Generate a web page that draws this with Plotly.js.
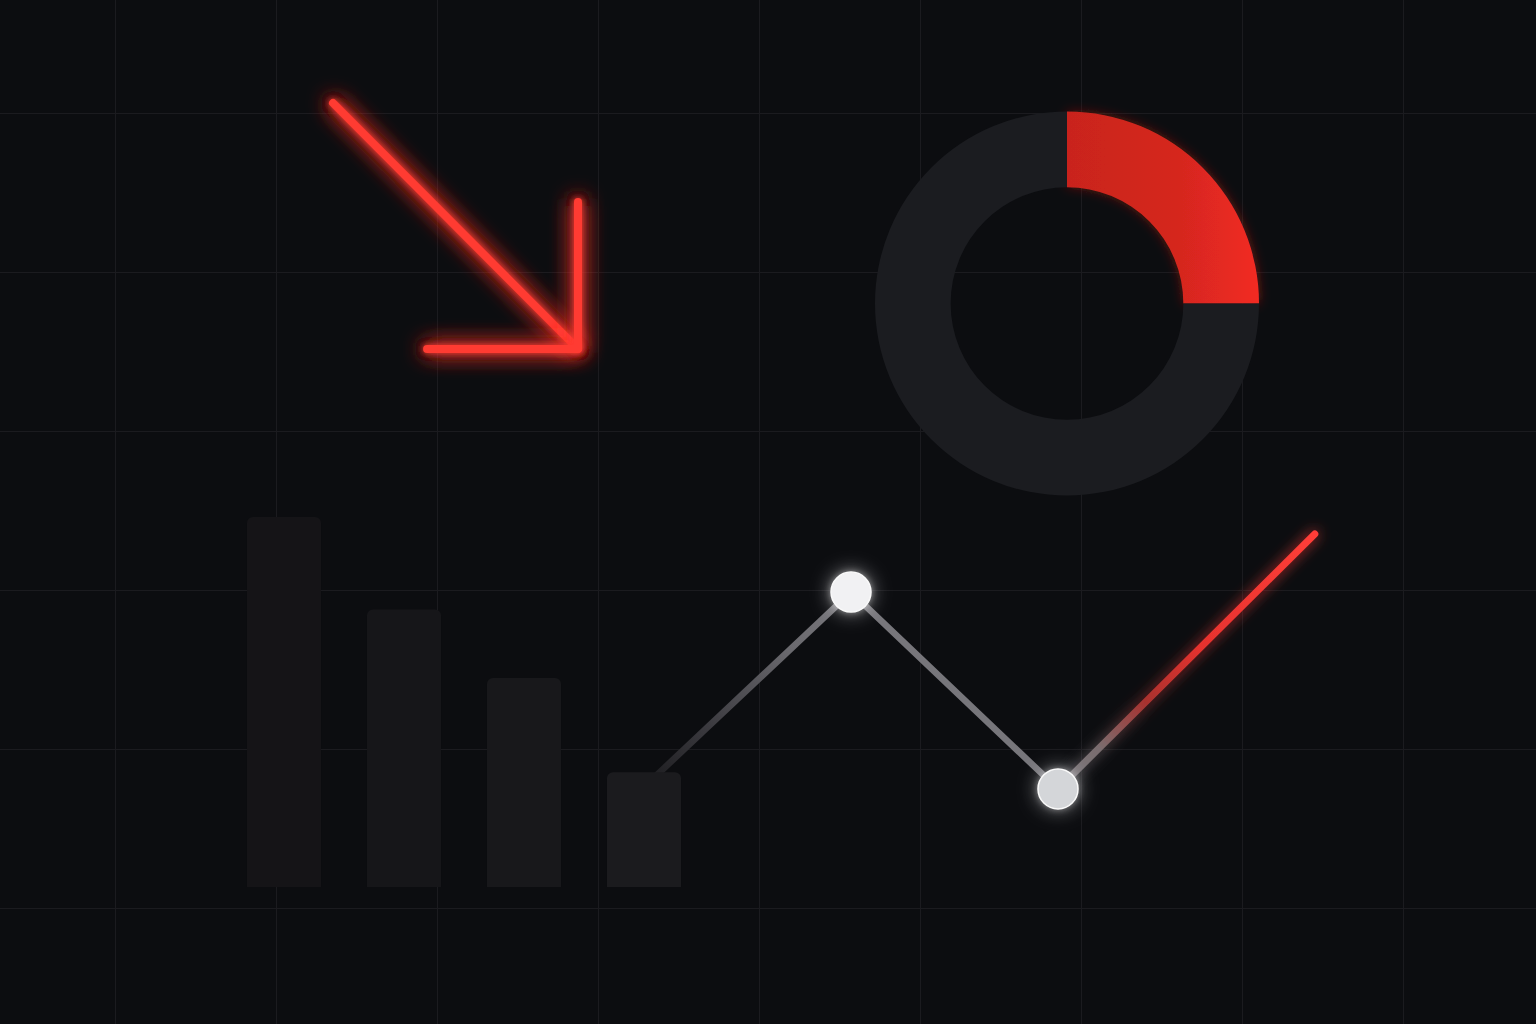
<!DOCTYPE html>
<html>
<head>
<meta charset="utf-8">
<script src="https://cdn.plot.ly/plotly-3.0.1.min.js"></script>
<style>
  html, body { margin: 0; padding: 0; background: #0c0d10; }
  #chart { width: 1536px; height: 1024px; }
</style>
</head>
<body>
<div id="chart"></div>
<script>
// ---- data ----
const barCategories = [0, 1, 2, 3];
const barValues = [100, 75, 56.5, 31];
const barColors = ['#151417', '#161619', '#18181b', '#1b1b1e'];

const lineX = [3.0, 4.725, 6.45, 8.59];
const lineY = [27, 79.7, 26.5, 95.4];
const pointColors = ['#f1f1f3', '#d4d6d9'];

const donutLabels = ['Share', 'Rest'];
const donutValues = [25, 75];
const donutColors = ['#d6271f', '#1b1c20'];

const arrowShaftX = [0, 1];
const arrowShaftY = [1, 0];
const arrowHeadX = [0.384, 1, 1];
const arrowHeadY = [0, 0, 0.598];

// ---- traces ----
const traces = [
  { type: 'scatter', mode: 'lines', name: 'seg1', x: lineX.slice(0, 2), y: lineY.slice(0, 2),
    xaxis: 'x', yaxis: 'y', line: { color: '#56555a', width: 6.5 }, hoverinfo: 'skip' },
  { type: 'scatter', mode: 'lines', name: 'seg2', x: lineX.slice(1, 3), y: lineY.slice(1, 3),
    xaxis: 'x', yaxis: 'y', line: { color: '#77767b', width: 6.5 }, hoverinfo: 'skip' },
  { type: 'scatter', mode: 'lines', name: 'seg3', x: lineX.slice(2, 4), y: lineY.slice(2, 4),
    xaxis: 'x', yaxis: 'y', line: { color: '#e8322e', width: 7 }, hoverinfo: 'skip' },
  { type: 'scatter', mode: 'markers', name: 'points', x: lineX.slice(1, 3), y: lineY.slice(1, 3),
    xaxis: 'x', yaxis: 'y',
    marker: { size: 40, color: pointColors, line: { color: '#fafafa', width: 1.5 } }, hoverinfo: 'skip' },
  { type: 'scatter', mode: 'lines', name: 'arrowShaft', x: arrowShaftX, y: arrowShaftY,
    xaxis: 'x2', yaxis: 'y2', line: { color: '#ff3a31', width: 8 }, hoverinfo: 'skip' },
  { type: 'scatter', mode: 'lines', name: 'arrowHead', x: arrowHeadX, y: arrowHeadY,
    xaxis: 'x2', yaxis: 'y2', line: { color: '#ff3a31', width: 8 }, hoverinfo: 'skip' },
  { type: 'bar', name: 'bars', x: barCategories, y: barValues, xaxis: 'x3', yaxis: 'y3',
    width: 0.617, marker: { color: barColors, cornerradius: 6, line: { width: 0 } }, hoverinfo: 'skip' },
  { type: 'pie', name: 'donut', labels: donutLabels, values: donutValues, hole: 0.606,
    sort: false, direction: 'clockwise', rotation: 0, textinfo: 'none', hoverinfo: 'skip',
    marker: { colors: donutColors, line: { width: 0 } },
    domain: { x: [875 / 1536, 1259 / 1536], y: [(1024 - 497) / 1024, (1024 - 110) / 1024] } }
];

const xr = [-284 / 120, (1536 - 284) / 120];
const yr = [-137 / 3.7, 887 / 3.7];
const hidden = { showticklabels: false, ticks: '', zeroline: false, showline: false, showgrid: false, fixedrange: true };

const layout = {
  width: 1536, height: 1024,
  margin: { l: 0, r: 0, t: 0, b: 0, pad: 0 },
  paper_bgcolor: '#0c0d10', plot_bgcolor: 'rgba(0,0,0,0)',
  showlegend: false,
  xaxis: Object.assign({}, hidden, { domain: [0, 1], range: xr, showgrid: true,
    gridcolor: '#1b1b1f', gridwidth: 1, tick0: (115 - 284) / 120, dtick: 161 / 120 }),
  yaxis: Object.assign({}, hidden, { domain: [0, 1], range: yr, showgrid: true,
    gridcolor: '#1b1b1f', gridwidth: 1, tick0: (887 - 113) / 3.7, dtick: 159 / 3.7 }),
  xaxis2: Object.assign({}, hidden, { overlaying: 'x', anchor: 'y2', range: [-333 / 245, (1536 - 333) / 245] }),
  yaxis2: Object.assign({}, hidden, { overlaying: 'y', anchor: 'x2', range: [(349 - 1024) / 246, 349 / 246] }),
  xaxis3: Object.assign({}, hidden, { overlaying: 'x', anchor: 'y3', range: xr }),
  yaxis3: Object.assign({}, hidden, { overlaying: 'y', anchor: 'x3', range: yr })
};

Plotly.newPlot('chart', traces, layout, { staticPlot: true, displayModeBar: false }).then(function (gd) {
  const NS = 'http://www.w3.org/2000/svg';
  const svg = gd.querySelector('.main-svg');
  const defs = document.createElementNS(NS, 'defs');
  defs.innerHTML =
    '<filter id="glowRed" filterUnits="userSpaceOnUse" x="-400" y="-400" width="2400" height="1900">' +
      '<feGaussianBlur in="SourceGraphic" stdDeviation="11" result="b1"/>' +
      '<feGaussianBlur in="SourceGraphic" stdDeviation="3" result="b2"/>' +
      '<feMerge><feMergeNode in="b1"/><feMergeNode in="b1"/><feMergeNode in="b2"/><feMergeNode in="SourceGraphic"/></feMerge>' +
    '</filter>' +
    '<filter id="glowSoft" filterUnits="userSpaceOnUse" x="-400" y="-400" width="2400" height="1900">' +
      '<feGaussianBlur in="SourceGraphic" stdDeviation="7" result="b1"/>' +
      '<feComponentTransfer in="b1" result="b2"><feFuncA type="linear" slope="0.8"/></feComponentTransfer>' +
      '<feMerge><feMergeNode in="b2"/><feMergeNode in="SourceGraphic"/></feMerge>' +
    '</filter>' +
    '<filter id="glowPie" filterUnits="userSpaceOnUse" x="-400" y="-400" width="2400" height="1900">' +
      '<feGaussianBlur in="SourceGraphic" stdDeviation="6" result="b1"/>' +
      '<feComponentTransfer in="b1" result="b2"><feFuncA type="linear" slope="0.45"/></feComponentTransfer>' +
      '<feMerge><feMergeNode in="b2"/><feMergeNode in="SourceGraphic"/></feMerge>' +
    '</filter>' +
    '<filter id="glowWhite" filterUnits="userSpaceOnUse" x="-400" y="-400" width="2400" height="1900">' +
      '<feGaussianBlur in="SourceGraphic" stdDeviation="10" result="b1"/>' +
      '<feComponentTransfer in="b1" result="b2"><feFuncA type="linear" slope="0.55"/></feComponentTransfer>' +
      '<feGaussianBlur in="SourceGraphic" stdDeviation="3" result="b3"/>' +
      '<feComponentTransfer in="b3" result="b4"><feFuncA type="linear" slope="0.4"/></feComponentTransfer>' +
      '<feMerge><feMergeNode in="b2"/><feMergeNode in="b4"/><feMergeNode in="SourceGraphic"/></feMerge>' +
    '</filter>' +
    '<linearGradient id="gSeg1" x1="0" y1="1" x2="1" y2="0">' +
      '<stop offset="0" stop-color="#1a1a1d"/><stop offset="0.3" stop-color="#3a393e"/>' +
      '<stop offset="0.7" stop-color="#6a696e"/><stop offset="1" stop-color="#7a797e"/>' +
    '</linearGradient>' +
    '<linearGradient id="gSeg3" x1="0" y1="1" x2="1" y2="0">' +
      '<stop offset="0" stop-color="#77767b"/><stop offset="0.16" stop-color="#7a6d6f"/>' +
      '<stop offset="0.34" stop-color="#a8322f"/><stop offset="0.55" stop-color="#e5322e"/>' +
      '<stop offset="1" stop-color="#ff3e38"/>' +
    '</linearGradient>' +
    '<linearGradient id="gRed" x1="0" y1="0" x2="1" y2="0">' +
      '<stop offset="0" stop-color="#c9241e"/><stop offset="0.6" stop-color="#d6271f"/>' +
      '<stop offset="1" stop-color="#f22b23"/>' +
    '</linearGradient>';
  svg.insertBefore(defs, svg.firstChild);

  gd.querySelectorAll('.trace').forEach(function (g) {
    const cd = g.__data__;
    if (!cd || !cd[0] || !cd[0].trace) return;
    const name = cd[0].trace.name;
    const line = g.querySelector('path.js-line');
    if (name === 'seg1' && line) { line.style.stroke = 'url(#gSeg1)'; }
    if (name === 'seg2' && line) { line.style.strokeLinecap = 'round'; }
    if (name === 'seg3' && line) {
      line.style.stroke = 'url(#gSeg3)'; line.style.strokeLinecap = 'round';
      line.setAttribute('filter', 'url(#glowSoft)');
    }
    if ((name === 'arrowShaft' || name === 'arrowHead') && line) {
      line.style.strokeLinecap = 'round'; line.style.strokeLinejoin = 'round';
      line.setAttribute('filter', 'url(#glowRed)');
    }
    if (name === 'points') {
      g.querySelectorAll('path.point').forEach(function (p) { p.setAttribute('filter', 'url(#glowWhite)'); });
    }
    if (name === 'donut') {
      const slices = g.querySelectorAll('.slice path.surface');
      if (slices[0]) {
        slices[0].style.fill = 'url(#gRed)';
        slices[0].setAttribute('filter', 'url(#glowPie)');
      }
    }
  });
});
</script>
</body>
</html>
